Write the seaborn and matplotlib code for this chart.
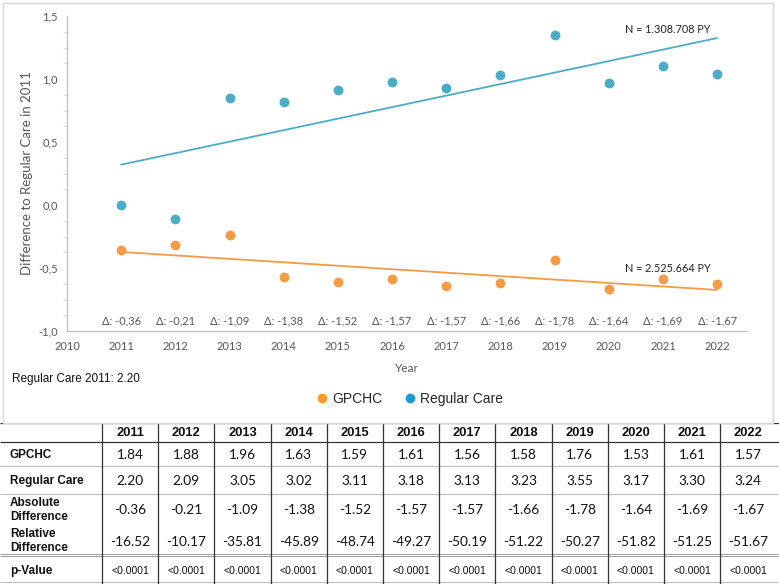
import numpy as np
import pandas as pd
import seaborn as sns
import matplotlib.pyplot as plt
from matplotlib.lines import Line2D
from matplotlib.patches import Rectangle
from matplotlib.ticker import FuncFormatter, MultipleLocator

# table values (German report, decimal comma in the chart)
years = [2011, 2012, 2013, 2014, 2015, 2016, 2017, 2018, 2019, 2020, 2021, 2022]
gpchc = [1.84, 1.88, 1.96, 1.63, 1.59, 1.61, 1.56, 1.58, 1.76, 1.53, 1.61, 1.57]
regular = [2.20, 2.09, 3.05, 3.02, 3.11, 3.18, 3.13, 3.23, 3.55, 3.17, 3.30, 3.24]
abs_diff = [-0.36, -0.21, -1.09, -1.38, -1.52, -1.57, -1.57, -1.66, -1.78, -1.64, -1.69, -1.67]
rel_diff = [-16.52, -10.17, -35.81, -45.89, -48.74, -49.27, -50.19, -51.22, -50.27, -51.82, -51.25, -51.67]
p_values = ["<0.0001"] * 12
rc_2011 = 2.20

df = pd.DataFrame({"Year": years, "GPCHC": gpchc, "Regular": regular})
df["gp_diff"] = (df["GPCHC"] - rc_2011).round(2)
df["rc_diff"] = (df["Regular"] - rc_2011).round(2)

orange = "#F59B45"
blue = "#4BACC6"
grey = "#595959"

sns.set_style("white")
plt.rcParams["font.family"] = ["Lato", "DejaVu Sans"]

fig = plt.figure(figsize=(7.79, 5.84), dpi=100)
ax = fig.add_axes([67 / 779, 1 - 331 / 584, 680 / 779, 315 / 584])

sns.regplot(data=df, x="Year", y="rc_diff", ax=ax, ci=None, color=blue,
            scatter_kws=dict(s=50, linewidths=0, alpha=1), line_kws=dict(lw=1.3))
sns.regplot(data=df, x="Year", y="gp_diff", ax=ax, ci=None, color=orange,
            scatter_kws=dict(s=50, linewidths=0, alpha=1), line_kws=dict(lw=1.3))

ax.set_xlim(2010, 2022.55)
ax.set_ylim(-1.0, 1.5)
ax.set_xticks(range(2010, 2023))
ax.yaxis.set_major_locator(MultipleLocator(0.5))
ax.yaxis.set_minor_locator(MultipleLocator(0.125))
ax.yaxis.set_major_formatter(FuncFormatter(lambda v, p: f"{v:.1f}".replace(".", ",")))
ax.tick_params(axis="both", labelsize=8, colors="#BFBFBF", labelcolor=grey, length=3, width=0.8, direction="out")
ax.tick_params(axis="y", which="minor", length=3, width=0.6, colors="#D0D0D0", left=True)
ax.tick_params(axis="x", pad=4)
for s in ["top", "right"]:
    ax.spines[s].set_visible(False)
for s in ["left", "bottom"]:
    ax.spines[s].set_color("#BFBFBF")
    ax.spines[s].set_linewidth(0.9)
ax.set_xlabel("Year", fontsize=8.5, color=grey, labelpad=8)
ax.set_ylabel("Difference to Regular Care in 2011", fontsize=9.5, color=grey, labelpad=4)

for yr, d in zip(years, abs_diff):
    ax.text(yr, -0.92, f"Δ: {d:.2f}".replace(".", ","), ha="center", va="center",
            fontsize=8, color=grey)

ax.text(2020.3, 1.39, "N = 1.308.708 PY", fontsize=7.8, color="#222222", va="center")
ax.text(2020.3, -0.505, "N = 2.525.664 PY", fontsize=7.8, color="#222222", va="center")

# outer frame of the chart block
fig.patches.append(Rectangle((3 / 779, 1 - 423 / 584), 770 / 779, 420 / 584,
                             transform=fig.transFigure, fill=False,
                             edgecolor="#D9D9D9", lw=1))

fig.text(12 / 779, 1 - 379 / 584, "Regular Care 2011: 2.20", fontsize=8.5,
         family=["Liberation Sans"], color="#111111", va="center")

handles = [Line2D([], [], marker="o", ls="", color="#FF9A1F", markersize=6),
           Line2D([], [], marker="o", ls="", color="#1A9AD6", markersize=6)]
fig.legend(handles, ["GPCHC", "Regular Care"], loc="center",
           bbox_to_anchor=(410 / 779, 1 - 399 / 584), ncol=2, frameon=False,
           handlelength=0.7, handletextpad=0.4, columnspacing=1.6,
           prop=dict(family="Liberation Sans", size=10))

# data table below the chart
tax = fig.add_axes([0, 0, 1, 161 / 584])
tax.set_xlim(0, 779)
tax.set_ylim(584, 423)
tax.axis("off")

col_w = 56.2
edges = [102 + i * col_w for i in range(13)]
tax.hlines([423.5, 442], 0, 779, color="#333333", lw=0.9)
tax.hlines([466, 494], 0, 779, color="#BDBDBD", lw=0.8)
tax.hlines([554, 556], 0, 779, color="#A0A0A0", lw=0.7)
tax.hlines([582.5], 0, 779, color="#BDBDBD", lw=0.8)
tax.vlines(edges[:-1], 423.5, 584, color="#333333", lw=0.9)

label_font = dict(family="Liberation Sans", fontweight="bold", fontsize=8.5, color="#111111")
tax.text(10, 455, "GPCHC", va="center", **label_font)
tax.text(10, 481, "Regular Care", va="center", **label_font)
tax.text(10, 510, "Absolute\nDifference", va="center", linespacing=1.15, **label_font)
tax.text(10, 541, "Relative\nDifference", va="center", linespacing=1.15, **label_font)
tax.text(10, 571, "p-Value", va="center", **label_font)

rows = [(455, gpchc, "{:.2f}"), (481, regular, "{:.2f}"),
        (510, abs_diff, "{:.2f}"), (542, rel_diff, "{:.2f}")]
for i, yr in enumerate(years):
    cx = edges[i] + col_w / 2
    tax.text(cx, 433, str(yr), ha="center", va="center", family="Liberation Sans",
             fontweight="bold", fontsize=9.3, color="#111111")
    for y, vals, fmt in rows:
        tax.text(cx, y, fmt.format(vals[i]), ha="center", va="center",
                 fontsize=9.8, color="#111111")
    tax.text(cx, 571, p_values[i], ha="center", va="center",
             family="Liberation Sans", fontsize=7.5, color="#111111")

fig.savefig("out.png", dpi=100)
